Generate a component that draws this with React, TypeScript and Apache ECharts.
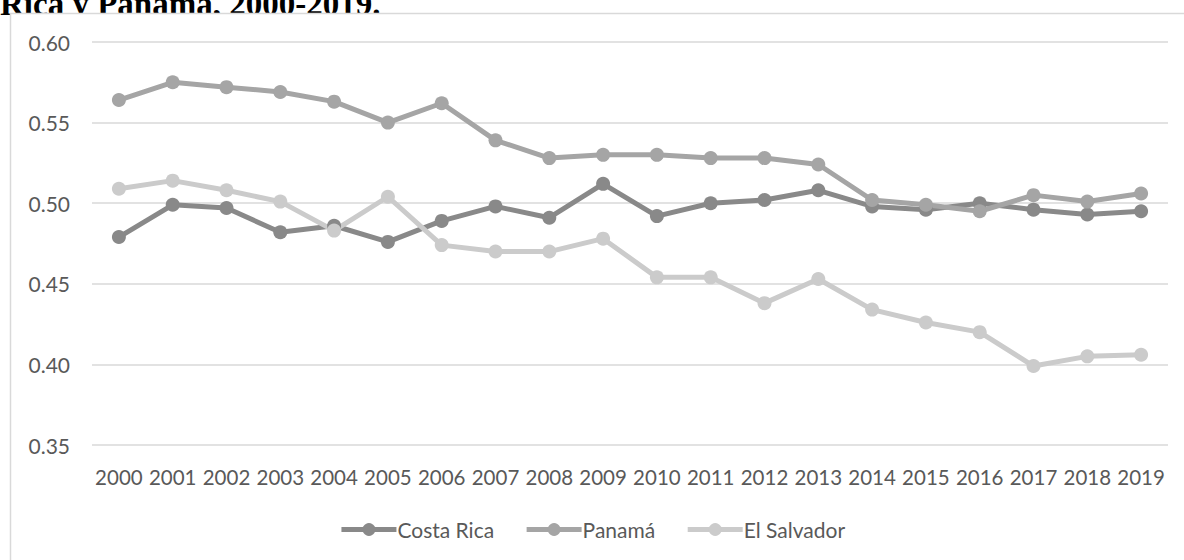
import React, { useEffect, useRef } from "react";
import * as echarts from "echarts";

// Years on the category axis
const years = [
  "2000", "2001", "2002", "2003", "2004", "2005", "2006", "2007", "2008", "2009",
  "2010", "2011", "2012", "2013", "2014", "2015", "2016", "2017", "2018", "2019",
];

// Gini coefficient by country
const costaRica = [
  0.479, 0.499, 0.497, 0.482, 0.486, 0.476, 0.489, 0.498, 0.491, 0.512,
  0.492, 0.5, 0.502, 0.508, 0.498, 0.496, 0.5, 0.496, 0.493, 0.495,
];
const panama = [
  0.564, 0.575, 0.572, 0.569, 0.563, 0.55, 0.562, 0.539, 0.528, 0.53,
  0.53, 0.528, 0.528, 0.524, 0.502, 0.499, 0.495, 0.505, 0.501, 0.506,
];
const elSalvador = [
  0.509, 0.514, 0.508, 0.501, 0.483, 0.504, 0.474, 0.47, 0.47, 0.478,
  0.454, 0.454, 0.438, 0.453, 0.434, 0.426, 0.42, 0.399, 0.405, 0.406,
];

const seriesNames = ["Costa Rica", "Panamá", "El Salvador"];
const seriesColors = ["#898989", "#a5a5a5", "#cbcbcb"];
const seriesData = [costaRica, panama, elSalvador];

const titleText = "Rica y Panamá, 2000-2019.";

const FONT = "Lato, 'Open Sans', sans-serif";
const TEXT_COLOR = "#595959";

export default function App() {
  const ref = useRef<HTMLDivElement>(null);

  useEffect(() => {
    document.body.style.margin = "0";
    if (!ref.current) return;
    const chart = echarts.init(ref.current, undefined, { renderer: "svg" });

    chart.setOption({
      animation: false,
      backgroundColor: "#ffffff",
      graphic: [
        {
          type: "text",
          left: 0,
          top: -13,
          z: -20,
          style: {
            text: titleText,
            font: "bold 33px 'Liberation Serif', 'Times New Roman', serif",
            fill: "#000000",
          },
        },
        {
          type: "rect",
          z: -10,
          shape: { x: 10.5, y: 13.5, width: 1200, height: 600 },
          style: { fill: "#ffffff", stroke: "#d9d9d9", lineWidth: 1.5 },
        },
      ],
      grid: { left: 92, right: 16, top: 42, bottom: 115, containLabel: false },
      legend: {
        data: seriesNames,
        top: 514,
        left: "center",
        itemWidth: 55,
        itemHeight: 16,
        itemGap: 30,
        lineStyle: { width: 5 },
        textStyle: { fontFamily: FONT, fontSize: 21, color: TEXT_COLOR, padding: [0, 0, 0, -4] },
      },
      xAxis: {
        type: "category",
        data: years,
        boundaryGap: true,
        axisLine: { show: false },
        axisTick: { show: false },
        axisLabel: {
          interval: 0,
          margin: 21,
          fontFamily: FONT,
          fontSize: 20.5,
          color: TEXT_COLOR,
        },
      },
      yAxis: {
        type: "value",
        min: 0.35,
        max: 0.6,
        interval: 0.05,
        axisLine: { show: false },
        axisTick: { show: false },
        splitLine: { lineStyle: { color: "#d9d9d9", width: 1.5 } },
        axisLabel: {
          margin: 22,
          fontFamily: FONT,
          fontSize: 21,
          color: TEXT_COLOR,
          formatter: (v: number) => v.toFixed(2),
        },
      },
      series: seriesNames.map((name, i) => ({
        name,
        type: "line",
        data: seriesData[i],
        symbol: "circle",
        symbolSize: 14,
        color: seriesColors[i],
        lineStyle: { width: 5, color: seriesColors[i] },
        itemStyle: { color: seriesColors[i] },
      })),
    });

    return () => chart.dispose();
  }, []);

  return <div ref={ref} style={{ width: 1184, height: 560 }} />;
}
